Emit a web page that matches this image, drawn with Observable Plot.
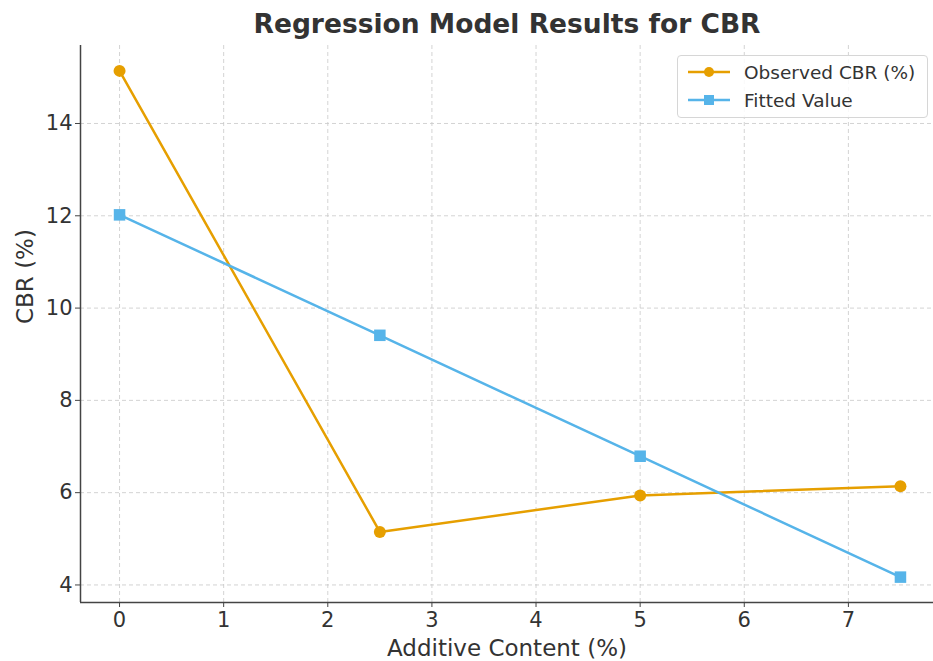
<!DOCTYPE html>
<html>
<head>
<meta charset="utf-8">
<script src="https://cdn.jsdelivr.net/npm/d3@7"></script>
<script src="https://cdn.jsdelivr.net/npm/@observablehq/plot@0.6"></script>
<style>
  html, body { margin: 0; padding: 0; background: #fff; }
  #wrap { position: relative; width: 933px; height: 661px; font-family: "DejaVu Sans", sans-serif; }
  #legend { position: absolute; left: 677px; top: 55px; width: 251px; height: 63px; box-sizing: border-box;
    border: 1px solid #d6d6d6; border-radius: 4px; background: rgba(255,255,255,0.85); padding: 2px 0 0 10px; }
  .item { display: flex; align-items: center; height: 28px; font-size: 18.5px; color: #333; }
  .item svg { margin-right: 14px; }
</style>
</head>
<body>
<div id="wrap"></div>
<script>
const additive = [0, 2.5, 5, 7.5];
const observed = [15.14, 5.15, 5.94, 6.14];
const fitted = [12.02, 9.41, 6.79, 4.17];
const xTicks = [0, 1, 2, 3, 4, 5, 6, 7];
const yTicks = [4, 6, 8, 10, 12, 14];
const seriesNames = ["Observed CBR (%)", "Fitted Value"];
const colors = ["#E69F00", "#56B4E9"];
const title = "Regression Model Results for CBR";
const xLabel = "Additive Content (%)";
const yLabel = "CBR (%)";

const obsData = additive.map((x, i) => ({x, y: observed[i]}));
const fitData = additive.map((x, i) => ({x, y: fitted[i]}));

const xDomain = [-0.375, 7.875];
const yDomain = [3.62, 15.69];

const chart = Plot.plot({
  width: 933,
  height: 661,
  marginLeft: 80,
  marginRight: 0,
  marginTop: 45,
  marginBottom: 59,
  style: {fontFamily: "DejaVu Sans, sans-serif", color: "#333", background: "#fff"},
  x: {domain: xDomain, range: [80, 939]},
  y: {domain: yDomain},
  marks: [
    Plot.gridX(xTicks, {stroke: "#c8c8c8", strokeOpacity: 1, strokeDasharray: "4,3", strokeWidth: 0.8}),
    Plot.gridY(yTicks, {stroke: "#c8c8c8", strokeOpacity: 1, strokeDasharray: "4,3", strokeWidth: 0.8}),
    Plot.ruleX([xDomain[0]], {stroke: "#444", strokeWidth: 1.5}),
    Plot.ruleY([yDomain[0]], {stroke: "#444", strokeWidth: 1.5}),
    Plot.axisX(xTicks, {tickSize: 5, tickPadding: 5, fontSize: 21, stroke: "#444", fill: "#333", label: null}),
    Plot.axisY(yTicks, {tickSize: 5, tickPadding: 3, fontSize: 21, stroke: "#444", fill: "#333", label: null}),
    Plot.line(obsData, {x: "x", y: "y", stroke: colors[0], strokeWidth: 2.5}),
    Plot.dot(obsData, {x: "x", y: "y", fill: colors[0], r: 6, symbol: "circle"}),
    Plot.line(fitData, {x: "x", y: "y", stroke: colors[1], strokeWidth: 2.5}),
    Plot.dot(fitData, {x: "x", y: "y", fill: colors[1], r: 6.5, symbol: "square"}),
    Plot.text([title], {frameAnchor: "top", dy: -31, fontSize: 26.5, fontWeight: "bold", fill: "#333"}),
    Plot.text([xLabel], {frameAnchor: "bottom", dy: 53, fontSize: 23, fill: "#333"}),
    Plot.text([yLabel], {frameAnchor: "left", dx: -55, rotate: -90, fontSize: 23, fill: "#333"})
  ]
});
const wrap = document.getElementById("wrap");
wrap.appendChild(chart);

const legend = document.createElement("div");
legend.id = "legend";
seriesNames.forEach((name, i) => {
  const item = document.createElement("div");
  item.className = "item";
  const sw = i === 0
    ? `<svg width="42" height="14"><line x1="0" y1="7" x2="42" y2="7" stroke="${colors[i]}" stroke-width="2.5"/><circle cx="21" cy="7" r="5" fill="${colors[i]}"/></svg>`
    : `<svg width="42" height="14"><line x1="0" y1="7" x2="42" y2="7" stroke="${colors[i]}" stroke-width="2.5"/><rect x="16" y="2" width="10" height="10" fill="${colors[i]}"/></svg>`;
  item.innerHTML = sw + `<span>${name}</span>`;
  legend.appendChild(item);
});
wrap.appendChild(legend);
</script>
</body>
</html>
